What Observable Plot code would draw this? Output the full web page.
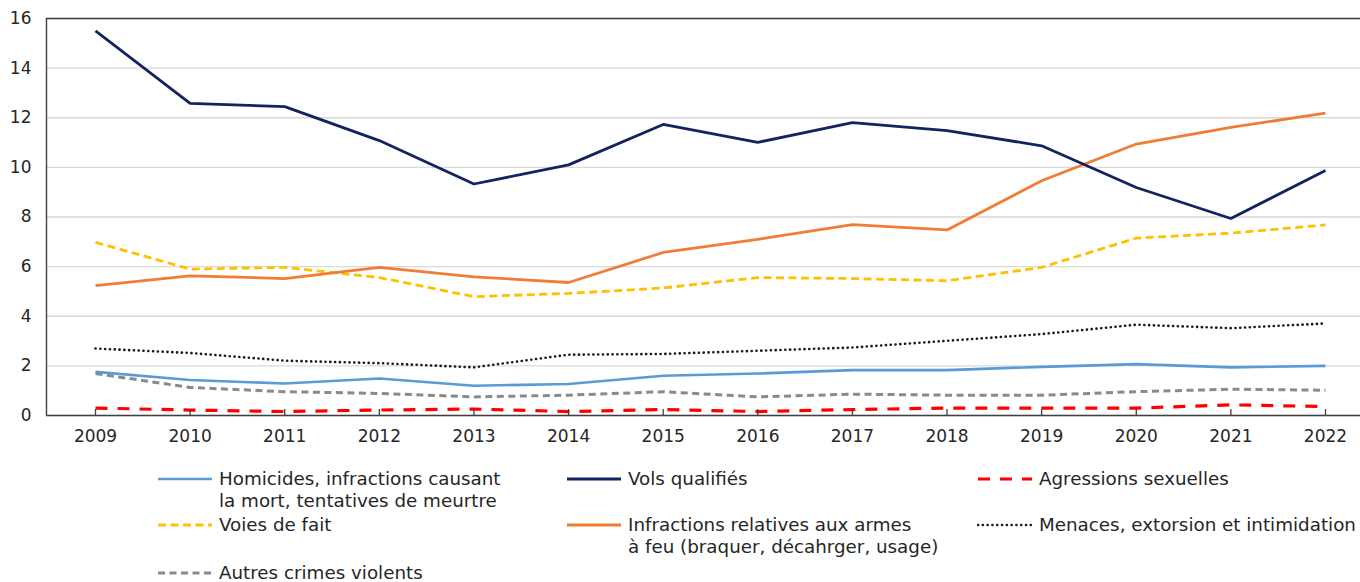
<!DOCTYPE html>
<html>
<head>
<meta charset="utf-8">
<script src="https://cdn.jsdelivr.net/npm/d3@7"></script>
<script src="https://cdn.jsdelivr.net/npm/@observablehq/plot@0.6"></script>
<style>
  html, body { margin: 0; padding: 0; background: #fff; }
  body { width: 1360px; height: 582px; overflow: hidden; font-family: "DejaVu Sans", Verdana, sans-serif; }
  #chart { position: relative; }
  #legend { position: relative; width: 1360px; height: 130px; }
  .item { position: absolute; display: flex; align-items: flex-start; font-size: 18.3px; color: #262626; line-height: 21.5px; }
  .item svg { flex: none; margin-top: 5px; }
  .item span { margin-left: 7px; white-space: nowrap; }
</style>
</head>
<body>
<div id="chart"></div>
<div id="legend"></div>
<script>
const years = [2009,2010,2011,2012,2013,2014,2015,2016,2017,2018,2019,2020,2021,2022];
const yTicks = [0,2,4,6,8,10,12,14,16];

const seriesNames = [
  "Homicides, infractions causant\nla mort, tentatives de meurtre",
  "Vols qualifiés",
  "Agressions sexuelles",
  "Voies de fait",
  "Infractions relatives aux armes\nà feu (braquer, décahrger, usage)",
  "Menaces, extorsion et intimidation",
  "Autres crimes violents"
];

const homicides = [1.76,1.43,1.29,1.49,1.20,1.27,1.60,1.69,1.83,1.83,1.96,2.07,1.94,2.00];
const volsQualifies = [15.5,12.58,12.45,11.08,9.33,10.10,11.73,11.01,11.80,11.48,10.87,9.19,7.94,9.87];
const agressionsSexuelles = [0.30,0.22,0.16,0.22,0.26,0.16,0.24,0.16,0.24,0.30,0.30,0.30,0.43,0.36];
const voiesDeFait = [6.98,5.90,5.97,5.56,4.79,4.92,5.14,5.56,5.52,5.43,5.97,7.15,7.35,7.68];
const armesAFeu = [5.23,5.63,5.52,5.97,5.59,5.36,6.57,7.10,7.69,7.48,9.46,10.94,11.61,12.19];
const menaces = [2.70,2.52,2.21,2.11,1.94,2.45,2.48,2.61,2.74,3.01,3.28,3.66,3.52,3.71];
const autres = [1.69,1.13,0.96,0.89,0.75,0.82,0.96,0.75,0.86,0.82,0.82,0.96,1.06,1.02];

const seriesValues = [homicides, volsQualifies, agressionsSexuelles, voiesDeFait, armesAFeu, menaces, autres];

// styles (separate from data)
const styles = [
  {color: "#5b9bd5", dash: null, width: 2.6, cap: "butt"},
  {color: "#13235f", dash: null, width: 2.8, cap: "butt"},
  {color: "#ff0000", dash: "12,10", width: 3.2, cap: "butt"},
  {color: "#ffc000", dash: "8,4.5", width: 2.8, cap: "butt"},
  {color: "#f07c35", dash: null, width: 2.8, cap: "butt"},
  {color: "#1a1a1a", dash: "0.1,4.7", width: 2.6, cap: "round"},
  {color: "#8a8a8a", dash: "7,4.5", width: 3, cap: "butt"}
];

const table = [];
seriesNames.forEach((name, i) => {
  years.forEach((yr, j) => table.push({series: name, idx: i, year: yr, value: seriesValues[i][j]}));
});

// draw order: back to front
const order = [6, 2, 0, 5, 3, 4, 1];

const chart = Plot.plot({
  width: 1360,
  height: 452,
  marginLeft: 46,
  marginRight: 0,
  marginTop: 18,
  marginBottom: 37,
  style: {fontFamily: "'DejaVu Sans', Verdana, sans-serif", fontSize: "17px", color: "#262626", background: "#fff"},
  x: {domain: [2008.482, 2022.37], label: null},
  y: {domain: [0, 16], label: null},
  marks: [
    Plot.gridY(yTicks, {stroke: "#d9d9d9", strokeOpacity: 1, strokeWidth: 1.3}),
    ...order.map(i => Plot.line(table.filter(d => d.idx === i), {
      x: "year", y: "value",
      stroke: styles[i].color,
      strokeWidth: styles[i].width,
      strokeDasharray: styles[i].dash,
      strokeLinecap: styles[i].cap,
      strokeLinejoin: "round"
    })),
    Plot.ruleY([16], {stroke: "#404040", strokeWidth: 1.4}),
    Plot.ruleX([2008.482], {stroke: "#404040", strokeWidth: 1.4}),
    Plot.ruleX(years, {y1: 0, y2: 0.24, stroke: "#404040", strokeWidth: 1.3}),
    Plot.ruleY([0], {stroke: "#404040", strokeWidth: 1.4}),
    Plot.axisY(yTicks, {tickSize: 0, tickPadding: 15, fontSize: 17, fill: "#262626"}),
    Plot.axisX(years, {tickSize: 0, tickPadding: 14, tickFormat: d => String(d), fontSize: 17, fill: "#262626"})
  ]
});
document.getElementById("chart").appendChild(chart);

// Legend
const legendPos = [
  {left: 157, top: 16}, {left: 566, top: 16}, {left: 977, top: 16},
  {left: 157, top: 62}, {left: 566, top: 62}, {left: 977, top: 62},
  {left: 157, top: 110}
];
const legend = document.getElementById("legend");
seriesNames.forEach((name, i) => {
  const item = document.createElement("div");
  item.className = "item";
  item.style.left = legendPos[i].left + "px";
  item.style.top = legendPos[i].top + "px";
  const ns = "http://www.w3.org/2000/svg";
  const svg = document.createElementNS(ns, "svg");
  svg.setAttribute("width", 55);
  svg.setAttribute("height", 12);
  const ln = document.createElementNS(ns, "line");
  ln.setAttribute("x1", 1); ln.setAttribute("x2", 55);
  ln.setAttribute("y1", 6); ln.setAttribute("y2", 6);
  ln.setAttribute("stroke", styles[i].color);
  ln.setAttribute("stroke-width", styles[i].width);
  if (styles[i].dash) ln.setAttribute("stroke-dasharray", styles[i].dash);
  ln.setAttribute("stroke-linecap", styles[i].cap);
  svg.appendChild(ln);
  item.appendChild(svg);
  const span = document.createElement("span");
  span.innerHTML = name.split("\n").join("<br>");
  item.appendChild(span);
  legend.appendChild(item);
});
</script>
</body>
</html>
